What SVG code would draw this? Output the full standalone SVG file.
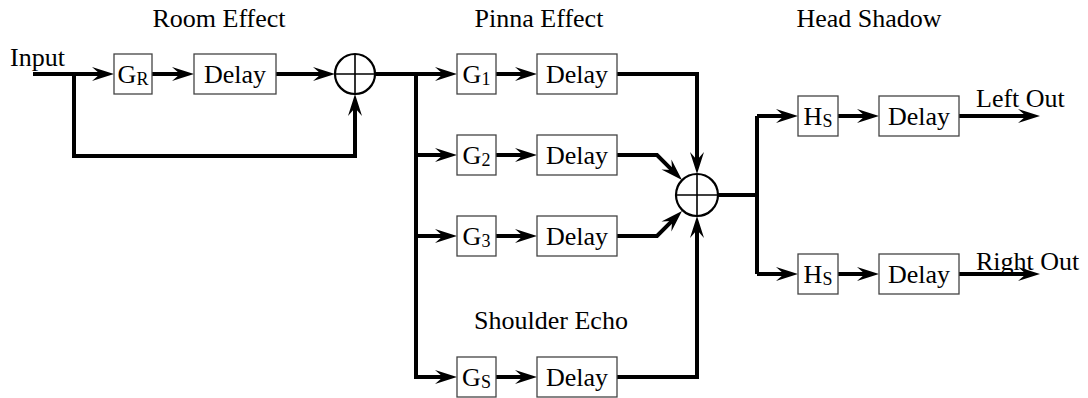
<svg xmlns="http://www.w3.org/2000/svg" width="1088" height="398" viewBox="0 0 1088 398">
<style>
text{font-family:"Liberation Serif","Times New Roman",serif;fill:#000;font-size:26px}
.lbl{text-anchor:middle}
.sub{font-size:18px}
.box{fill:#fff;stroke:#444;stroke-width:1.3}
.sum{fill:#fff;stroke:#000;stroke-width:2.2}
.cross{stroke:#000;stroke-width:1.6}
.wire{fill:none;stroke:#000;stroke-width:4;stroke-linejoin:miter}
.arr{marker-end:url(#ah)}
</style>
<defs>
<marker id="ah" markerUnits="userSpaceOnUse" markerWidth="24" markerHeight="16" viewBox="0 -8 24 16" refX="8" refY="0" orient="auto" overflow="visible">
<path d="M0,-7 L22,0 L0,7 L8,0 Z" fill="#000"/>
</marker>
</defs>

<g id="titles">
<text class="lbl" x="219" y="27">Room Effect</text>
<text class="lbl" x="539" y="27">Pinna Effect</text>
<text class="lbl" x="869" y="27">Head Shadow</text>
<text class="lbl" x="551" y="329">Shoulder Echo</text>
<text x="10" y="66">Input</text>
<text x="976" y="107">Left Out</text>
<text x="976" y="270">Right Out</text>
</g>

<g id="connectors">
<path class="wire arr" d="M33,74 H100"/>
<path class="wire arr" d="M152,74 H180"/>
<path class="wire arr" d="M276,74 H321"/>
<path class="wire arr" d="M74,74 V156 H355 V108"/>
<path class="wire arr" d="M375,74 H443"/>
<path class="wire arr" d="M416,74 V377 H443"/>
<path class="wire arr" d="M416,155 H443"/>
<path class="wire arr" d="M416,236 H443"/>
<path class="wire arr" d="M496,74 H523"/>
<path class="wire arr" d="M496,155 H523"/>
<path class="wire arr" d="M496,236 H523"/>
<path class="wire arr" d="M496,377 H523"/>
<path class="wire arr" d="M617,74 H697 V160"/>
<path class="wire arr" d="M617,155 H657 L672.1,170.1"/>
<path class="wire arr" d="M617,236 H657 L672.1,220.9"/>
<path class="wire arr" d="M617,377 H697 V230"/>
<path class="wire" d="M718,195 H757"/>
<path class="wire" d="M757,116 V274"/>
<path class="wire arr" d="M757,116 H784"/>
<path class="wire arr" d="M757,274 H784"/>
<path class="wire arr" d="M838,116 H865"/>
<path class="wire arr" d="M838,274 H865"/>
<path class="wire arr" d="M959,116 H1026"/>
<path class="wire arr" d="M959,274 H1026"/>
</g>

<g id="gR"><rect class="box" x="114" y="54" width="38" height="40"/><text class="lbl" x="133" y="83">G<tspan class="sub" dy="2">R</tspan></text></g>
<g id="delayR"><rect class="box" x="194" y="54" width="82" height="40"/><text class="lbl" x="235" y="83">Delay</text></g>
<g id="sum1"><circle class="sum" cx="355" cy="74" r="20"/><path class="cross" d="M335,74 H375 M355,54 V94"/></g>

<g id="g1"><rect class="box" x="457" y="54" width="39" height="40"/><text class="lbl" x="476.5" y="83">G<tspan class="sub" dy="2">1</tspan></text></g>
<g id="delay1"><rect class="box" x="537" y="54" width="80" height="40"/><text class="lbl" x="577" y="83">Delay</text></g>
<g id="g2"><rect class="box" x="457" y="135" width="39" height="40"/><text class="lbl" x="476.5" y="164">G<tspan class="sub" dy="2">2</tspan></text></g>
<g id="delay2"><rect class="box" x="537" y="135" width="80" height="40"/><text class="lbl" x="577" y="164">Delay</text></g>
<g id="g3"><rect class="box" x="457" y="216" width="39" height="40"/><text class="lbl" x="476.5" y="245">G<tspan class="sub" dy="2">3</tspan></text></g>
<g id="delay3"><rect class="box" x="537" y="216" width="80" height="40"/><text class="lbl" x="577" y="245">Delay</text></g>
<g id="gS"><rect class="box" x="457" y="357" width="39" height="40"/><text class="lbl" x="476.5" y="386">G<tspan class="sub" dy="2">S</tspan></text></g>
<g id="delayS"><rect class="box" x="537" y="357" width="80" height="40"/><text class="lbl" x="577" y="386">Delay</text></g>
<g id="sum2"><circle class="sum" cx="697" cy="195" r="21"/><path class="cross" d="M676,195 H718 M697,174 V216"/></g>

<g id="hsL"><rect class="box" x="798" y="96" width="40" height="40"/><text class="lbl" x="818" y="125">H<tspan class="sub" dy="2">S</tspan></text></g>
<g id="delayL"><rect class="box" x="879" y="96" width="80" height="40"/><text class="lbl" x="919" y="125">Delay</text></g>
<g id="hsR"><rect class="box" x="798" y="254" width="40" height="40"/><text class="lbl" x="818" y="283">H<tspan class="sub" dy="2">S</tspan></text></g>
<g id="delayRt"><rect class="box" x="879" y="254" width="80" height="40"/><text class="lbl" x="919" y="283">Delay</text></g>
</svg>
